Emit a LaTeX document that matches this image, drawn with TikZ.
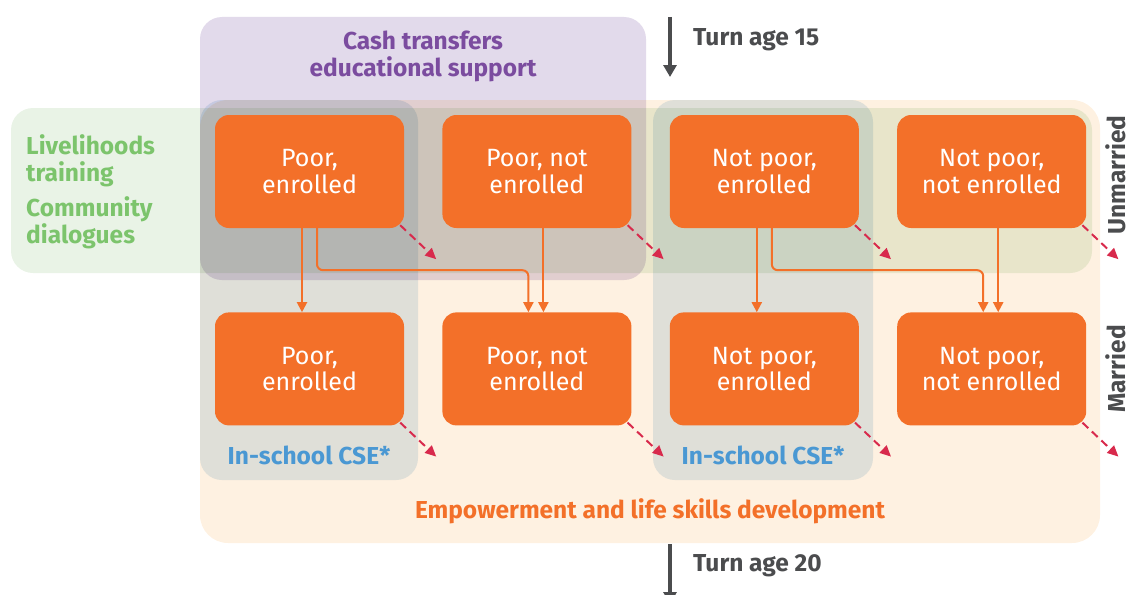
\documentclass[tikz,border=0pt]{standalone}
\usepackage{fontspec}
\setsansfont{Fira Sans}
\renewcommand{\familydefault}{\sfdefault}
\usetikzlibrary{positioning,arrows.meta,calc}
\definecolor{boxorange}{HTML}{F37029}
\definecolor{empfill}{HTML}{FEF1E1}
\definecolor{cashfill}{HTML}{E2DAEB}
\definecolor{livfill}{HTML}{E9F3E6}
\definecolor{csefill}{HTML}{E0ECF5}
\definecolor{cashpurple}{HTML}{7B4C9F}
\definecolor{livgreen}{HTML}{7CC46C}
\definecolor{cseblue}{HTML}{4A98D3}
\definecolor{agegray}{HTML}{4B4C4E}
\definecolor{leavered}{HTML}{D82A4C}
\begin{document}
\begin{tikzpicture}[x=1pt,y=-1pt,node distance=84pt and 38pt,
    state box/.style={fill=boxorange,rounded corners=14pt,minimum width=189pt,
      minimum height=113pt,inner sep=0pt,text=white,align=center,
      font=\fontsize{25}{26.5}\selectfont},
    tag/.style={font=\bfseries\fontsize{24.5}{27}\selectfont,inner sep=0pt},
    flow/.style={draw=boxorange,line width=2pt,rounded corners=6pt,
      -{Triangle[length=10pt,width=10pt]}},
    leave/.style={draw=leavered,line width=2pt,dash pattern=on 8pt off 5pt,
      -{Triangle[length=11pt,width=10pt]}},
    age/.style={draw=agegray,line width=4pt,-{Triangle[length=12pt,width=13pt]}}]
  \useasboundingbox (0,0) rectangle (1131,594);

  % programme areas
  \begin{scope}[blend mode=multiply]
    \fill[empfill,rounded corners=28pt] (200,100) rectangle (1100,543);
    \fill[cashfill,rounded corners=22pt] (200,17) rectangle (646,280);
    \fill[livfill,rounded corners=22pt] (11,108) rectangle (1092,273);
    \fill[csefill,rounded corners=22pt] (200,100) rectangle (418,480);
    \fill[csefill,rounded corners=22pt] (653,100) rectangle (873,480);
  \end{scope}

  % states
  \node[state box] (pu) at (309.5,171.5) {Poor,\\enrolled};
  \node[state box] (pnu) [right=of pu] {Poor, not\\enrolled};
  \node[state box] (npu) [right=of pnu] {Not poor,\\enrolled};
  \node[state box] (nnu) [right=of npu] {Not poor,\\not enrolled};
  \node[state box] (pm) [below=of pu] {Poor,\\enrolled};
  \node[state box] (pnm) [below=of pnu] {Poor, not\\enrolled};
  \node[state box] (npm) [below=of npu] {Not poor,\\enrolled};
  \node[state box] (nnm) [below=of nnu] {Not poor,\\not enrolled};

  % transitions
  \draw[flow] ([xshift=-7.5pt]pu.south) -- ([xshift=-7.5pt]pm.north);
  \draw[flow] ([xshift=7.5pt]pu.south) -- ++(0,42) -| ([xshift=-8.5pt]pnm.north);
  \draw[flow] ([xshift=6.5pt]pnu.south) -- ([xshift=6.5pt]pnm.north);
  \draw[flow] ([xshift=-7.5pt]npu.south) -- ([xshift=-7.5pt]npm.north);
  \draw[flow] ([xshift=7.5pt]npu.south) -- ++(0,42) -| ([xshift=-8.5pt]nnm.north);
  \draw[flow] ([xshift=6.5pt]nnu.south) -- ([xshift=6.5pt]nnm.north);
  \foreach \n in {pu,pnu,npu,nnu,pm,pnm,npm,nnm}
    \draw[leave] ([shift={(-4,-3)}]\n.south east) -- ++(36,34);

  % labels
  \node[tag,text=cashpurple,align=center] (cash) at (423,56) {Cash transfers\\educational support};
  \node[tag,text=livgreen,align=left,anchor=west] (liv) at (26,192)
    {Livelihoods\\training\\[8pt]Community\\dialogues};
  \node[tag,text=cseblue] (cse1) at (309,455) {In-school CSE*};
  \node[tag,text=cseblue] (cse2) at (763,455) {In-school CSE*};
  \node[tag,text=boxorange] (emp) at (650,511) {Empowerment and life skills development};
  \node[tag,text=agegray,rotate=90] (unm) at (1116,175) {Unmarried};
  \node[tag,text=agegray,rotate=90] (mar) at (1116,369) {Married};

  % age
  \node[tag,text=agegray,anchor=west] (t15) at (693,40) {Turn age 15};
  \node[tag,text=agegray,anchor=west] (t20) at (693,566) {Turn age 20};
  \coordinate (a15s) at (670,17);
  \coordinate (a15e) at (670,77);
  \coordinate (a20s) at (670,544);
  \coordinate (a20e) at (670,604);
  \draw[age] (a15s) -- (a15e);
  \draw[age] (a20s) -- (a20e);
\end{tikzpicture}
\end{document}
